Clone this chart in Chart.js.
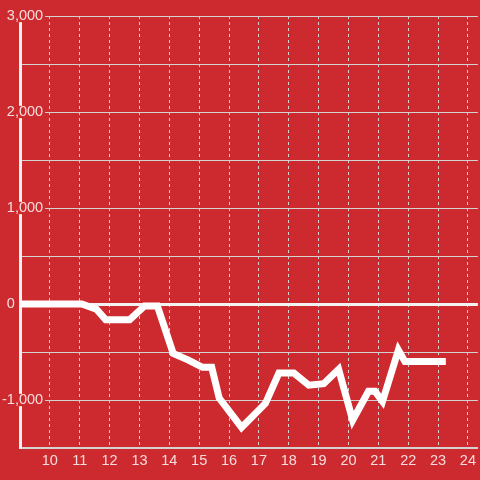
<!DOCTYPE html>
<html>
<head>
<meta charset="utf-8">
<script src="https://cdn.jsdelivr.net/npm/chart.js@4"></script>
<style>
  html, body { margin: 0; padding: 0; background: #cc2a2f; }
  #wrap { width: 480px; height: 480px; }
</style>
</head>
<body>
<div id="wrap"><canvas id="chart" width="480" height="480"></canvas></div>
<script>
// hours of the day (x) and the running value (y)
const hours = [9, 11.07, 11.56, 11.87, 12.67, 13.17, 13.6, 14.13, 14.64, 15.11, 15.42, 15.67,
               16.42, 17.22, 17.67, 18.17, 18.67, 19.17, 19.67, 20.14, 20.67, 20.89, 21.14,
               21.67, 21.89, 23.26];
const values = [0, 0, -55, -165, -165, -20, -20, -515, -585, -660, -660, -980,
                -1285, -1035, -720, -720, -845, -830, -680, -1210, -910, -910, -1015,
                -480, -600, -600];

const X_MIN = 9;
const X_MAX = 24.333;
const Y_MIN = -1500;
const Y_MAX = 3000;

const RED = "#cc2a2f";
const TEXT = "#f6dcdc";
const GRID = "#d2d2d2";
const AXIS = "#f2f2f2";

const points = hours.map((h, i) => ({ x: h, y: values[i] }));

const ctx = document.getElementById("chart").getContext("2d");
new Chart(ctx, {
    type: "line",
    data: {
        datasets: [{
            data: points,
            borderColor: "#ffffff",
            borderWidth: 7,
            pointRadius: 0,
            tension: 0,
            fill: false
        }]
    },
    options: {
        responsive: false,
        animation: false,
        layout: { padding: { top: 16, left: 0, right: 0, bottom: 0 } },
        plugins: {
            legend: { display: false },
            tooltip: { enabled: false }
        },
        scales: {
            x: {
                type: "linear",
                min: X_MIN,
                max: X_MAX,
                afterFit: scale => { scale.height = 32; },
                ticks: {
                    stepSize: 1,
                    includeBounds: false,
                    maxRotation: 0,
                    autoSkip: false,
                    padding: 4,
                    color: TEXT,
                    font: { family: "'Liberation Sans', Arial, sans-serif", size: 14.5 },
                    callback: v => (v === X_MIN ? "" : String(v))
                },
                grid: {
                    color: GRID,
                    lineWidth: 1,
                    drawTicks: false
                },
                border: { display: true, color: GRID, width: 2, dash: [3, 3] }
            },
            y: {
                min: Y_MIN,
                max: Y_MAX,
                afterFit: scale => { scale.width = 20; },
                ticks: {
                    stepSize: 500,
                    mirror: true,
                    crossAlign: "far",
                    padding: -18,
                    color: TEXT,
                    font: { family: "'Liberation Sans', Arial, sans-serif", size: 14.5, lineHeight: 0.85 },
                    showLabelBackdrop: true,
                    backdropPadding: { x: 2, y: 0 },
                    backdropColor: c => (c.tick && c.tick.value % 1000 === 0 && c.tick.value !== 0 ? RED : "rgba(0,0,0,0)"),
                    callback: v => {
                        if (v % 1000 !== 0) return "";
                        if (v === 0) return "0       ";
                        return v.toLocaleString("en-US");
                    }
                },
                grid: {
                    color: c => (c.tick && c.tick.value === 0 ? AXIS : GRID),
                    lineWidth: c => (c.tick && c.tick.value === 0 ? 3 : 1),
                    drawTicks: false
                },
                border: { display: true, color: AXIS, width: 3 }
            }
        }
    }
});
</script>
</body>
</html>
